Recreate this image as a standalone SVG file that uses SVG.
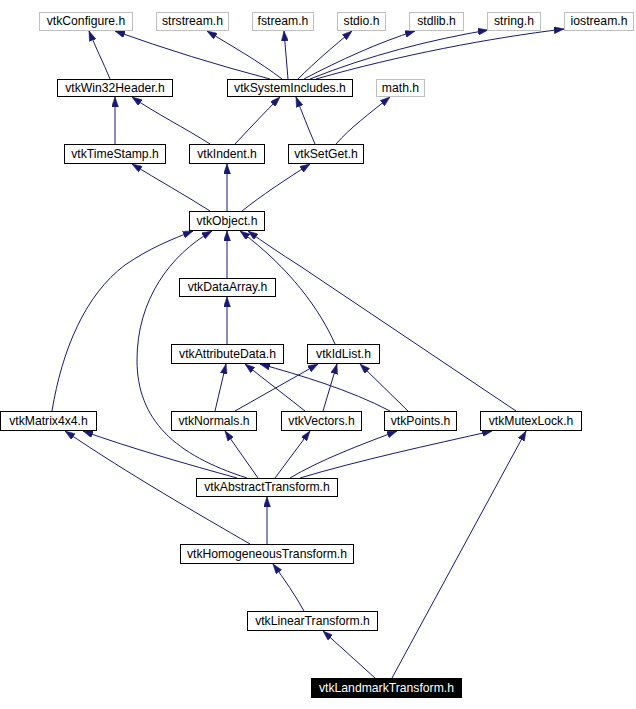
<svg xmlns="http://www.w3.org/2000/svg" width="636" height="709" viewBox="0 0 636 709">
<defs>
<marker id="ah" markerUnits="userSpaceOnUse" viewBox="0 0 10 7" refX="10" refY="3.5" markerWidth="10" markerHeight="7" orient="auto">
<path d="M0,0 L10,3.5 L0,7 Z" fill="#191970" stroke="#191970" stroke-width="0.5"/>
</marker>
</defs>
<style>
.n rect{fill:#fff;stroke:#000;stroke-width:1}
.x rect{fill:#fff;stroke:#bfbfbf;stroke-width:1}
.s rect{fill:#000;stroke:#000;stroke-width:1}
text{font-family:"Liberation Sans",Arial,sans-serif;font-size:12.2px;text-anchor:middle;fill:#000}
.s text{fill:#fff}
#edges path{fill:none;stroke:#191970;stroke-width:1;marker-end:url(#ah)}
</style>
<rect width="636" height="709" fill="#fff"/>
<g id="edges">
<path d="M110,79 C103,62 95,46 89,31"/>
<path d="M270,79 Q190,58 115,31"/>
<path d="M282,79 C260,62 230,45 207,31"/>
<path d="M288,79 L284,31"/>
<path d="M298,79 C315,62 335,45 352,31"/>
<path d="M304,79 C340,60 380,42 415,31"/>
<path d="M310,79 C370,55 430,40 488,30"/>
<path d="M316,79 C400,55 490,38 564,29"/>
<path d="M115,144 L115,97"/>
<path d="M210,144 C185,128 155,113 132,97"/>
<path d="M235,144 C250,128 265,112 280,97"/>
<path d="M315,144 C308,128 302,112 296,97"/>
<path d="M336,144 C350,128 370,113 390,97"/>
<path d="M210,211 C185,195 158,180 132,164"/>
<path d="M227,211 L227,164"/>
<path d="M242,211 C262,195 285,180 310,164"/>
<path d="M227,278 L227,231"/>
<path d="M227,344 L227,297"/>
<path d="M52,411 C62,350 85,295 125,265 C150,248 170,240 193,231"/>
<path d="M247,478 C175,455 137,420 137,360 C137,300 170,255 212,231"/>
<path d="M335,344 C320,310 290,268 240,231"/>
<path d="M516,411 L300,266 Q270,247 248,231"/>
<path d="M215,411 L226,364"/>
<path d="M235,411 L318,364"/>
<path d="M305,411 L245,364"/>
<path d="M323,411 L337,364"/>
<path d="M390,411 C350,390 300,375 260,364"/>
<path d="M408,411 L360,364"/>
<path d="M258,478 L225,431"/>
<path d="M275,478 L310,431"/>
<path d="M290,478 C320,460 360,445 397,431"/>
<path d="M300,478 C360,460 430,445 492,431"/>
<path d="M237,478 C190,465 130,448 83,431"/>
<path d="M250,544 C200,515 130,475 65,431"/>
<path d="M267,544 L267,497"/>
<path d="M304,611 C295,595 285,580 273,564"/>
<path d="M375,678 L323,631"/>
<path d="M392,678 L526,431"/>
</g>
<g id="vtkConfigure" class="x"><rect x="39.5" y="12.5" width="93" height="18"/><text x="86" y="25">vtkConfigure.h</text></g>
<g id="strstream" class="x"><rect x="156.5" y="12.5" width="72" height="18"/><text x="192.5" y="25">strstream.h</text></g>
<g id="fstream" class="x"><rect x="252.5" y="12.5" width="61" height="18"/><text x="283" y="25">fstream.h</text></g>
<g id="stdio" class="x"><rect x="337.5" y="12.5" width="48" height="18"/><text x="361.5" y="25">stdio.h</text></g>
<g id="stdlib" class="x"><rect x="409.5" y="12.5" width="54" height="18"/><text x="436.5" y="25">stdlib.h</text></g>
<g id="string" class="x"><rect x="487.5" y="12.5" width="53" height="18"/><text x="514" y="25">string.h</text></g>
<g id="iostream" class="x"><rect x="564.5" y="12.5" width="69" height="18"/><text x="599" y="25">iostream.h</text></g>
<g id="vtkWin32Header" class="n"><rect x="57.5" y="79.5" width="115" height="17"/><text x="115" y="91.5">vtkWin32Header.h</text></g>
<g id="vtkSystemIncludes" class="n"><rect x="227.5" y="79.5" width="125" height="17"/><text x="290" y="91.5">vtkSystemIncludes.h</text></g>
<g id="math" class="x"><rect x="376.5" y="79.5" width="48" height="17"/><text x="400.5" y="91.5">math.h</text></g>
<g id="vtkTimeStamp" class="n"><rect x="64.5" y="144.5" width="101" height="19"/><text x="115" y="157.5">vtkTimeStamp.h</text></g>
<g id="vtkIndent" class="n"><rect x="189.5" y="144.5" width="75" height="19"/><text x="227" y="157.5">vtkIndent.h</text></g>
<g id="vtkSetGet" class="n"><rect x="288.5" y="144.5" width="75" height="19"/><text x="326" y="157.5">vtkSetGet.h</text></g>
<g id="vtkObject" class="n"><rect x="189.5" y="211.5" width="75" height="19"/><text x="227" y="224.5">vtkObject.h</text></g>
<g id="vtkDataArray" class="n"><rect x="179.5" y="278.5" width="96" height="18"/><text x="227.5" y="291">vtkDataArray.h</text></g>
<g id="vtkAttributeData" class="n"><rect x="171.5" y="344.5" width="112" height="19"/><text x="227.5" y="357.5">vtkAttributeData.h</text></g>
<g id="vtkIdList" class="n"><rect x="307.5" y="344.5" width="72" height="19"/><text x="343.5" y="357.5">vtkIdList.h</text></g>
<g id="vtkMatrix4x4" class="n"><rect x="0.5" y="411.5" width="96" height="19"/><text x="48.5" y="424.5">vtkMatrix4x4.h</text></g>
<g id="vtkNormals" class="n"><rect x="171.5" y="411.5" width="85" height="19"/><text x="214" y="424.5">vtkNormals.h</text></g>
<g id="vtkVectors" class="n"><rect x="281.5" y="411.5" width="80" height="19"/><text x="321.5" y="424.5">vtkVectors.h</text></g>
<g id="vtkPoints" class="n"><rect x="384.5" y="411.5" width="72" height="19"/><text x="420.5" y="424.5">vtkPoints.h</text></g>
<g id="vtkMutexLock" class="n"><rect x="480.5" y="411.5" width="101" height="19"/><text x="531" y="424.5">vtkMutexLock.h</text></g>
<g id="vtkAbstractTransform" class="n"><rect x="196.5" y="478.5" width="141" height="18"/><text x="267" y="491">vtkAbstractTransform.h</text></g>
<g id="vtkHomogeneousTransform" class="n"><rect x="180.5" y="544.5" width="173" height="19"/><text x="267" y="557.5">vtkHomogeneousTransform.h</text></g>
<g id="vtkLinearTransform" class="n"><rect x="247.5" y="611.5" width="130" height="19"/><text x="312.5" y="624.5">vtkLinearTransform.h</text></g>
<g id="vtkLandmarkTransform" class="s"><rect x="311.5" y="678.5" width="150" height="19"/><text x="386.5" y="691.5">vtkLandmarkTransform.h</text></g>
</svg>
